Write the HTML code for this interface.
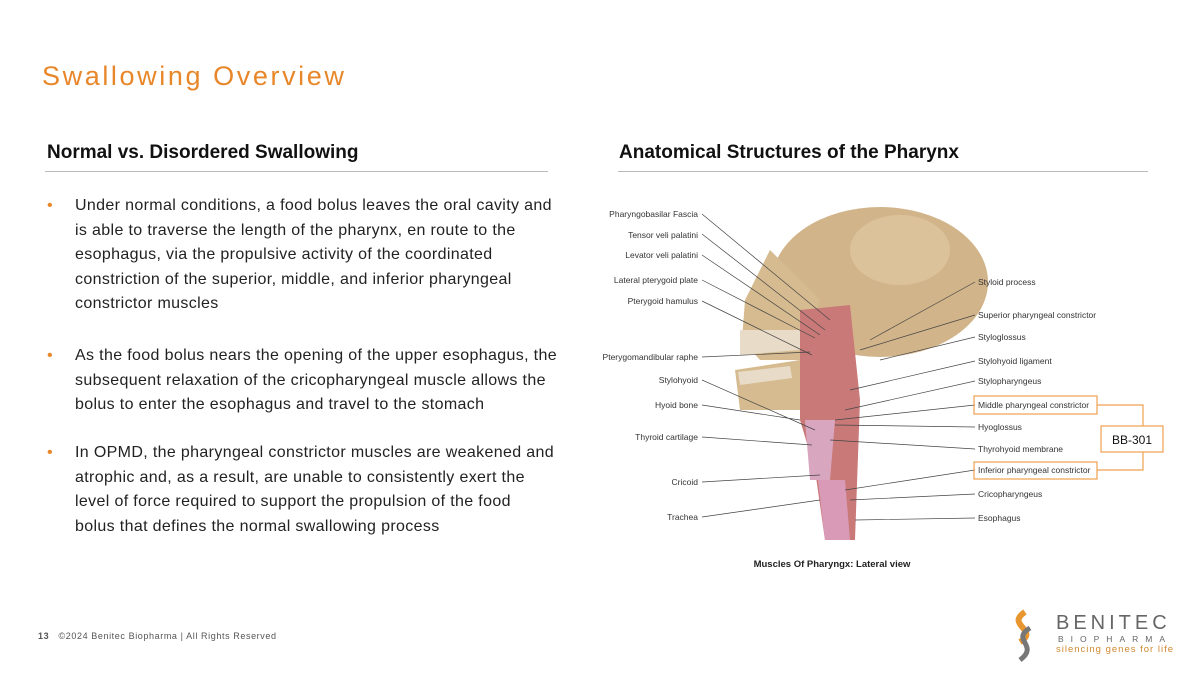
<!DOCTYPE html>
<html><head><meta charset="utf-8"><style>
body{margin:0;width:1200px;height:675px;background:#fff;position:relative;font-family:"Liberation Sans",sans-serif;overflow:hidden}
.a{position:absolute}
.t{font-size:27px;color:#E8872A;left:42px;top:61px;letter-spacing:2.6px}
.h{font-size:19px;font-weight:bold;color:#111;top:142px}
.hl{height:1px;background:#bbb;top:171px}
.b{left:75px;white-space:nowrap;font-size:16px;line-height:24.6px;color:#222;letter-spacing:0.35px}
.b:before{content:"•";position:absolute;left:-28px;color:#E8872A}
svg text{font-family:"Liberation Sans",sans-serif;font-size:8.5px;fill:#333}
</style></head><body>
<div class="a t">Swallowing Overview</div>
<div class="a h" style="left:47px">Normal vs. Disordered Swallowing</div>
<div class="a h" style="left:619px">Anatomical Structures of the Pharynx</div>
<div class="a hl" style="left:45px;width:503px"></div>
<div class="a hl" style="left:618px;width:530px"></div>
<div class="a b" style="top:194px">Under normal conditions, a food bolus leaves the oral cavity and<br>is able to traverse the length of the pharynx, en route to the<br>esophagus, via the propulsive activity of the coordinated<br>constriction of the superior, middle, and inferior pharyngeal<br>constrictor muscles</div>
<div class="a b" style="top:344px">As the food bolus nears the opening of the upper esophagus, the<br>subsequent relaxation of the cricopharyngeal muscle allows the<br>bolus to enter the esophagus and travel to the stomach</div>
<div class="a b" style="top:441px">In OPMD, the pharyngeal constrictor muscles are weakened and<br>atrophic and, as a result, are unable to consistently exert the<br>level of force required to support the propulsion of the food<br>bolus that defines the normal swallowing process</div>
<svg class="a" style="left:0;top:0" width="1200" height="675">
<ellipse cx="880" cy="282" rx="108" ry="75" fill="#d2b48a"/>
<path d="M770 250 L745 300 L742 340 L760 360 L800 360 L820 300 Z" fill="#d6bb90"/>
<path d="M740 330 L800 330 L800 350 L740 355Z" fill="#e8dcc8"/>
<path d="M735 370 L800 360 L805 410 L740 410 Z" fill="#d6bb90"/>
<path d="M738 372 L790 366 L792 378 L740 385Z" fill="#e8dcc8"/>
<path d="M800 310 L850 305 L860 400 L855 540 L825 540 L815 470 L800 420Z" fill="#c97a78"/>
<path d="M805 420 L835 420 L830 480 L810 480Z" fill="#d9a6c0"/>
<path d="M818 480 L845 480 L850 540 L825 540Z" fill="#d99ab8"/>
<ellipse cx="900" cy="250" rx="50" ry="35" fill="#dcc29a"/>
<g stroke="#444" stroke-width=".7" fill="none">
<path d="M702 214 L830 320M702 234 L825 330M702 255 L820 335M702 280 L815 338M702 301 L812 355M702 357 L810 352M702 380 L815 430M702 405 L800 420M702 437 L812 445M702 482 L820 475M702 517 L820 500"/>
<path d="M975 282 L870 340M975 315 L860 350M975 337 L880 360M975 361 L850 390M975 381 L845 410M975 405 L835 420M975 427 L835 425M975 449 L830 440M975 470 L845 490M975 494 L850 500M975 518 L855 520"/>
</g>
<g text-anchor="end">
<text x="698" y="217">Pharyngobasilar Fascia</text><text x="698" y="238">Tensor veli palatini</text><text x="698" y="258">Levator veli palatini</text><text x="698" y="283">Lateral pterygoid plate</text><text x="698" y="304">Pterygoid hamulus</text><text x="698" y="360">Pterygomandibular raphe</text><text x="698" y="383">Stylohyoid</text><text x="698" y="408">Hyoid bone</text><text x="698" y="440">Thyroid cartilage</text><text x="698" y="485">Cricoid</text><text x="698" y="520">Trachea</text>
</g>
<g>
<text x="978" y="285">Styloid process</text><text x="978" y="318">Superior pharyngeal constrictor</text><text x="978" y="340">Styloglossus</text><text x="978" y="364">Stylohyoid ligament</text><text x="978" y="384">Stylopharyngeus</text><text x="978" y="408">Middle pharyngeal constrictor</text><text x="978" y="430">Hyoglossus</text><text x="978" y="452">Thyrohyoid membrane</text><text x="978" y="473">Inferior pharyngeal constrictor</text><text x="978" y="497">Cricopharyngeus</text><text x="978" y="521">Esophagus</text>
</g>
<g stroke="#F0A050" stroke-width="1.2" fill="none">
<rect x="974" y="396" width="123" height="18"/><rect x="974" y="462" width="123" height="17"/>
<path d="M1097 405 H1143 V426 M1143 452 V470 H1097"/>
<rect x="1101" y="426" width="62" height="26" fill="#fff"/>
</g>
<text x="1132" y="444" text-anchor="middle" style="font-size:12px;fill:#111">BB-301</text>
<text x="832" y="567" text-anchor="middle" style="font-size:9.5px;font-weight:bold;fill:#222">Muscles Of Pharyngx: Lateral view</text>
<path d="M1025 612 C1005 625 1040 630 1020 642" stroke="#E8962F" stroke-width="6" fill="none"/>
<path d="M1030 628 C1010 640 1040 645 1020 660" stroke="#777" stroke-width="5" fill="none"/>
<text x="1056" y="629" style="font-size:20px;fill:#666;letter-spacing:4px">BENITEC</text>
<text x="1058" y="642" style="font-size:8.5px;fill:#666;letter-spacing:7px">BIOPHARMA</text>
<text x="1056" y="652" style="font-size:9.5px;fill:#D0882F;letter-spacing:1px">silencing genes for life</text>
</svg>
<div class="a" style="left:38px;top:631px;font-size:9px;color:#555;letter-spacing:0.6px"><b>13</b>&nbsp;&nbsp; ©2024 Benitec Biopharma | All Rights Reserved</div>
</body></html>
